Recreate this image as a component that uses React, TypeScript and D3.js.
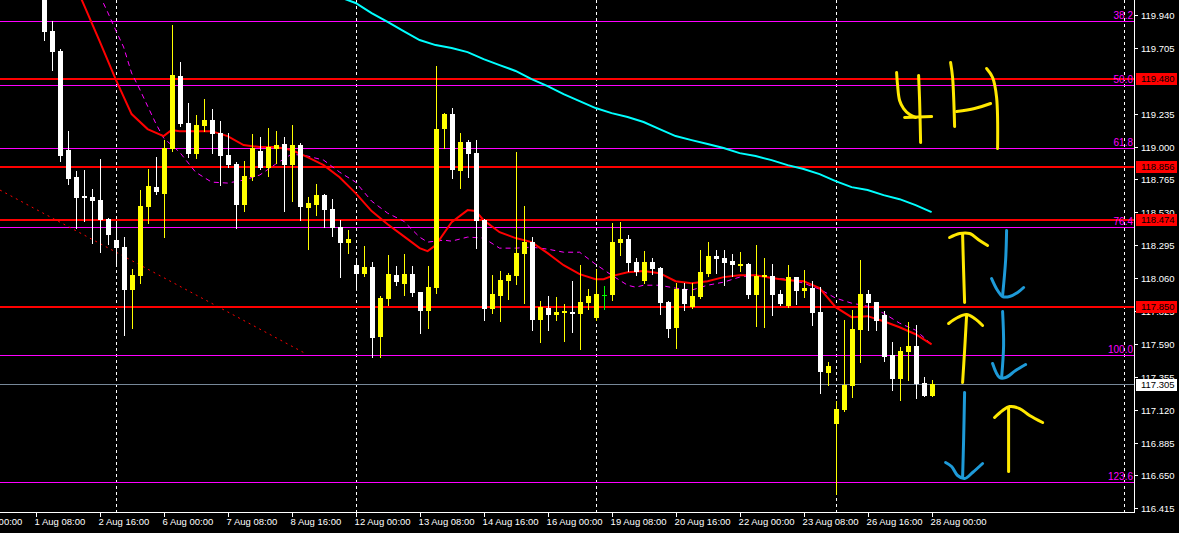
import React from 'react';
import * as d3 from 'd3';

const W = 1179;
const H = 533;
const PLOT_RIGHT = 1134;
const PLOT_BOTTOM = 512;

// H4 bars, bar 0 = 1 Aug 08:00, first drawn bar is 1
const firstBar = 1;
const opens = [
  120.154, 119.825, 119.682, 118.975, 118.781, 118.646, 118.638, 118.617, 118.481, 118.331,
  118.281, 117.972, 118.074, 118.567, 118.710, 118.660, 118.982, 119.504, 119.168, 118.946,
  119.146, 119.189, 119.096, 118.939, 118.874, 118.581, 118.781, 118.968, 118.846, 118.982,
  119.018, 118.867, 119.011, 118.560, 118.581, 118.653, 118.553, 118.424, 118.310, 118.152,
  118.088, 118.138, 117.638, 117.909, 118.081, 118.016, 118.088, 117.959, 117.823, 117.988,
  119.125, 119.232, 118.824, 119.032, 118.953, 118.474, 117.838, 117.931, 118.038, 118.074,
  118.231, 118.317, 117.759, 117.845, 117.795, 117.809, 117.816, 117.802, 117.881, 117.773,
  117.938, 117.938, 118.310, 118.338, 118.174, 118.038, 118.174, 118.131, 117.888, 117.702,
  117.981, 117.852, 117.923, 118.088, 118.217, 118.202, 118.181, 118.145, 118.160, 117.938,
  118.067, 118.074, 117.945, 117.859, 118.067, 117.966, 117.988, 117.816, 117.380, 117.015,
  117.116, 117.287, 117.688, 117.945, 117.888, 117.795, 117.509, 117.337, 117.530, 117.573,
  117.309, 117.216,
];
const highs = [
  120.226, 119.897, 119.697, 119.110, 118.824, 118.832, 118.696, 118.910, 118.488, 118.467,
  118.352, 118.124, 118.689, 118.839, 118.924, 119.046, 119.868, 119.604, 119.311, 119.225,
  119.339, 119.268, 119.182, 119.096, 118.889, 118.896, 119.089, 119.068, 119.132, 119.110,
  119.068, 119.153, 119.025, 118.638, 118.731, 118.660, 118.624, 118.474, 118.403, 118.202,
  118.288, 118.174, 117.931, 118.224, 118.145, 118.231, 118.145, 117.962, 118.145, 119.575,
  119.239, 119.275, 119.096, 119.046, 119.046, 118.481, 118.081, 118.110, 118.095, 118.960,
  118.574, 118.352, 117.895, 117.931, 117.923, 117.873, 118.038, 118.152, 117.981, 118.124,
  118.002, 118.453, 118.460, 118.367, 118.202, 118.252, 118.202, 118.138, 117.895, 118.024,
  118.024, 118.024, 118.260, 118.317, 118.260, 118.260, 118.231, 118.245, 118.167, 118.295,
  118.202, 118.160, 117.974, 118.152, 118.070, 118.117, 118.038, 117.995, 117.459, 117.180,
  117.759, 117.831, 118.188, 117.974, 117.892, 117.823, 117.602, 117.566, 117.745, 117.723,
  117.352, 117.330,
];
const lows = [
  119.761, 119.547, 118.896, 118.731, 118.417, 118.467, 118.310, 118.245, 118.302, 118.145,
  117.652, 117.702, 118.024, 118.453, 118.660, 118.352, 118.968, 119.146, 118.924, 118.917,
  119.110, 118.953, 118.724, 118.853, 118.417, 118.538, 118.760, 118.839, 118.789, 118.882,
  118.538, 118.610, 118.474, 118.267, 118.510, 118.424, 118.360, 118.067, 118.238, 117.974,
  118.074, 117.494, 117.494, 117.866, 118.009, 117.938, 117.931, 117.666, 117.702, 117.952,
  118.989, 118.774, 118.703, 118.781, 118.274, 117.759, 117.809, 117.752, 117.909, 118.016,
  117.881, 117.688, 117.602, 117.688, 117.759, 117.609, 117.673, 117.552, 117.838, 117.759,
  117.838, 117.902, 118.224, 118.110, 118.081, 118.024, 118.088, 117.802, 117.638, 117.559,
  117.831, 117.845, 117.916, 118.074, 118.095, 118.009, 118.074, 118.110, 117.916, 117.716,
  117.709, 117.795, 117.866, 117.852, 117.873, 117.923, 117.723, 117.237, 117.294, 116.515,
  117.110, 117.208, 117.459, 117.688, 117.688, 117.466, 117.259, 117.187, 117.330, 117.201,
  117.216, 117.214,
];
const closes = [
  119.818, 119.675, 118.932, 118.767, 118.631, 118.631, 118.610, 118.474, 118.367, 118.274,
  117.972, 118.081, 118.574, 118.717, 118.674, 118.989, 119.511, 119.161, 118.946, 119.153,
  119.189, 119.089, 118.932, 118.867, 118.581, 118.789, 118.989, 118.846, 118.996, 119.011,
  118.867, 119.011, 118.567, 118.596, 118.653, 118.546, 118.417, 118.310, 118.338, 118.088,
  118.138, 117.630, 117.916, 118.088, 118.031, 118.088, 117.952, 117.823, 117.995, 119.125,
  119.232, 118.832, 119.032, 118.946, 118.467, 117.838, 117.945, 118.045, 118.081, 118.238,
  118.317, 117.759, 117.852, 117.795, 117.816, 117.823, 117.802, 117.888, 117.931, 117.945,
  117.938, 118.317, 118.338, 118.167, 118.102, 118.174, 118.124, 117.881, 117.695, 117.981,
  117.873, 117.931, 118.102, 118.217, 118.195, 118.167, 118.152, 118.160, 117.938, 118.074,
  118.081, 117.938, 117.873, 118.067, 117.966, 117.988, 117.809, 117.387, 117.430, 117.123,
  117.294, 117.695, 117.945, 117.881, 117.752, 117.494, 117.337, 117.537, 117.573, 117.301,
  117.216, 117.305,
];

// moving averages: [bar, price]
const fastMa: [number, number][] = [
  [5, 120.147], [6, 120.018], [8, 119.754], [10, 119.482], [12, 119.232], [14, 119.125],
  [16, 119.075], [17, 119.118], [18, 119.110], [20, 119.110], [22, 119.110], [24, 119.075],
  [26, 119.011], [28, 118.996], [30, 118.996], [32, 118.975], [34, 118.925], [36, 118.867],
  [38, 118.781], [40, 118.667], [42, 118.539], [44, 118.445], [46, 118.360], [48, 118.274],
  [49, 118.253], [50, 118.295], [52, 118.460], [54, 118.546], [55, 118.539], [56, 118.474],
  [58, 118.388], [60, 118.346], [62, 118.317], [64, 118.238], [66, 118.152], [68, 118.088],
  [70, 118.052], [71, 118.052], [72, 118.074], [74, 118.102], [76, 118.110], [78, 118.095],
  [80, 118.038], [82, 118.024], [84, 118.038], [86, 118.067], [88, 118.081], [90, 118.081],
  [92, 118.060], [94, 118.045], [96, 118.038], [98, 117.988], [100, 117.852], [102, 117.781],
  [104, 117.788], [106, 117.752], [108, 117.709], [110, 117.659], [112, 117.587],
];
const dashMa: [number, number][] = [
  [8, 120.083], [9, 119.961], [10, 119.833], [11, 119.711], [12, 119.525], [13, 119.411],
  [14, 119.289], [15, 119.168], [16, 119.061], [18, 118.960], [20, 118.817], [22, 118.746],
  [24, 118.739], [26, 118.760], [28, 118.796], [30, 118.874], [32, 118.946], [34, 118.932],
  [36, 118.903], [38, 118.817], [40, 118.746], [42, 118.610], [44, 118.524], [46, 118.467],
  [48, 118.353], [49, 118.317], [51, 118.331], [52, 118.324], [54, 118.353], [56, 118.346],
  [58, 118.274], [60, 118.274], [62, 118.281], [64, 118.267], [66, 118.245], [68, 118.245],
  [70, 118.159], [72, 118.081], [74, 118.009], [75, 117.995], [76, 118.009], [78, 118.009],
  [80, 117.988], [82, 117.974], [84, 118.009], [86, 118.031], [88, 118.067], [90, 118.081],
  [92, 118.060], [94, 118.052], [96, 118.024], [98, 117.981], [100, 117.917], [102, 117.881],
  [104, 117.859], [106, 117.809], [108, 117.738], [110, 117.688], [112, 117.587],
];
const slowMa: [number, number][] = [
  [38, 120.068], [40, 120.026], [42, 119.954], [44, 119.890], [46, 119.825], [48, 119.761],
  [50, 119.725], [52, 119.704], [54, 119.675], [56, 119.625], [58, 119.582], [60, 119.540],
  [62, 119.482], [64, 119.432], [66, 119.375], [68, 119.325], [70, 119.275], [72, 119.239],
  [74, 119.211], [76, 119.175], [78, 119.125], [80, 119.075], [82, 119.046], [84, 119.018],
  [86, 118.989], [88, 118.953], [90, 118.932], [92, 118.903], [94, 118.867], [96, 118.839],
  [98, 118.803], [100, 118.753], [102, 118.710], [104, 118.689], [106, 118.653], [108, 118.624],
  [110, 118.581], [112, 118.531],
];

const trendLine: [number, number][] = [[-4.45, 118.689], [33.9, 117.516]];

const fibHigh = 121.37;
const fibLow = 117.514;
const fibRatios = [38.2, 50.0, 61.8, 76.4, 100.0, 123.6];
const levels = [119.48, 118.856, 118.474, 117.85];
const lastPrice = 117.305;

// 119.470 sits fully under the 119.480 level tag, so it is left out
const priceTicks = [
  116.415, 116.65, 116.885, 117.12, 117.355, 117.59, 117.825, 118.06,
  118.295, 118.53, 118.765, 119.0, 119.235, 119.705, 119.94,
];
const timeLabels = [
  '31 Jul 00:00', '1 Aug 08:00', '2 Aug 16:00', '6 Aug 00:00', '7 Aug 08:00', '8 Aug 16:00',
  '12 Aug 00:00', '13 Aug 08:00', '14 Aug 16:00', '16 Aug 00:00', '19 Aug 08:00',
  '20 Aug 16:00', '22 Aug 00:00', '23 Aug 08:00', '26 Aug 16:00', '28 Aug 00:00',
];
const timeLabelFirstBar = -8;
const barsPerLabel = 8;
const separators = [10, 40, 70, 100, 136];

// hand-drawn notes, pixel offsets from an anchor placed in chart units
const noteAnchor: [number, number] = [110, 118.5];
const noteYellow = '#ffe800';
const noteBlue = '#1e9ad8';
const notes: { color: string; pts: [number, number][] }[] = [
  { color: noteYellow, pts: [[-19, -144], [-18, -131], [-16, -116], [-12, -108], [-6, -102], [0, -99]] },
  { color: noteYellow, pts: [[-11, -99], [16, -100]] },
  { color: noteYellow, pts: [[3, -141], [4, -116], [5, -74]] },
  { color: noteYellow, pts: [[35, -154], [37, -139], [39, -90]] },
  { color: noteYellow, pts: [[41, -105], [59, -108], [75, -113]] },
  { color: noteYellow, pts: [[71, -148], [77, -139], [81, -119], [82, -68]] },
  { color: noteYellow, pts: [[34, 21], [44, 17], [54, 17], [64, 24], [72, 29]] },
  { color: noteYellow, pts: [[47, 18], [48, 54], [49, 86]] },
  { color: noteBlue, pts: [[91, 14], [90, 44], [87, 79]] },
  { color: noteBlue, pts: [[76, 62], [82, 74], [87, 80], [94, 80], [102, 76], [108, 71]] },
  { color: noteYellow, pts: [[33, 107], [42, 101], [51, 98], [59, 102], [67, 109]] },
  { color: noteYellow, pts: [[51, 99], [49, 134], [47, 166]] },
  { color: noteBlue, pts: [[87, 95], [88, 129], [86, 161]] },
  { color: noteBlue, pts: [[77, 147], [84, 161], [90, 161], [100, 154], [110, 148]] },
  { color: noteBlue, pts: [[49, 176], [48, 224], [47, 261]] },
  { color: noteBlue, pts: [[30, 246], [36, 250], [42, 259], [49, 262], [57, 256], [67, 247]] },
  { color: noteYellow, pts: [[79, 201], [87, 194], [94, 190], [104, 192], [114, 199], [127, 206]] },
  { color: noteYellow, pts: [[93, 191], [93, 224], [93, 255]] },
];

const FONT = '"Liberation Sans", Arial, sans-serif';

export default function App() {
  const x = d3.scaleLinear().domain([0, 112]).range([35.6, 931.6]);
  const y = d3.scaleLinear().domain([116.415, 119.94]).range([508.3, 15]);

  const maLine = d3
    .line<[number, number]>()
    .x(d => x(d[0]))
    .y(d => y(d[1]));

  const noteLine = d3
    .line<[number, number]>()
    .x(d => d[0])
    .y(d => d[1])
    .curve(d3.curveCatmullRom);

  const ax = x(noteAnchor[0]);
  const ay = y(noteAnchor[1]);

  const candles = opens.map((o, k) => {
    const c = closes[k];
    const cx = Math.round(x(firstBar + k));
    const top = Math.round(y(Math.max(o, c)));
    const bot = Math.round(y(Math.min(o, c)));
    const color = c > o ? '#ffff00' : c < o ? '#ffffff' : '#00ff00';
    return (
      <g key={k}>
        <line
          x1={cx + 0.5}
          x2={cx + 0.5}
          y1={Math.round(y(highs[k]))}
          y2={Math.round(y(lows[k])) + 1}
          stroke={color}
          strokeWidth={1}
        />
        <rect x={cx - 2} y={top} width={5} height={Math.max(1, bot - top)} fill={color} />
      </g>
    );
  });

  const fibLevels = fibRatios.map(r => ({ r, p: fibHigh - (r / 100) * (fibHigh - fibLow) }));

  return (
    <svg
      width={W}
      height={H}
      style={{ position: 'fixed', left: 0, top: 0, background: '#000', display: 'block' }}
      fontFamily={FONT}
    >
      <defs>
        <clipPath id="plot">
          <rect x={0} y={0} width={PLOT_RIGHT} height={PLOT_BOTTOM} />
        </clipPath>
      </defs>
      <rect width={W} height={H} fill="#000" />

      <g clipPath="url(#plot)">
        {separators.map(s => (
          <line
            key={s}
            x1={Math.round(x(s)) + 0.5}
            x2={Math.round(x(s)) + 0.5}
            y1={0}
            y2={PLOT_BOTTOM}
            stroke="#fff"
            strokeDasharray="3,3"
            shapeRendering="crispEdges"
          />
        ))}
        {fibLevels.map(f => (
          <line
            key={f.r}
            x1={0}
            x2={PLOT_RIGHT}
            y1={Math.round(y(f.p)) + 0.5}
            y2={Math.round(y(f.p)) + 0.5}
            stroke="#ff00ff"
            shapeRendering="crispEdges"
          />
        ))}
        {levels.map(l => (
          <line
            key={l}
            x1={0}
            x2={PLOT_RIGHT}
            y1={Math.round(y(l))}
            y2={Math.round(y(l))}
            stroke="#ff0000"
            strokeWidth={2}
            shapeRendering="crispEdges"
          />
        ))}
        <line
          x1={0}
          x2={PLOT_RIGHT}
          y1={Math.round(y(lastPrice)) + 0.5}
          y2={Math.round(y(lastPrice)) + 0.5}
          stroke="#778899"
          shapeRendering="crispEdges"
        />
        <path
          d={maLine(trendLine) ?? ''}
          fill="none"
          stroke="#ff0000"
          strokeWidth={1}
          strokeDasharray="2,4"
        />
        <path d={maLine(slowMa) ?? ''} fill="none" stroke="#00ffff" strokeWidth={2} />
        <path
          d={maLine(dashMa) ?? ''}
          fill="none"
          stroke="#ff00ff"
          strokeWidth={1}
          strokeDasharray="5,4"
        />
        <path d={maLine(fastMa) ?? ''} fill="none" stroke="#ff0000" strokeWidth={2} />
        <g shapeRendering="crispEdges">{candles}</g>
        {fibLevels.map(f => (
          <text
            key={'t' + f.r}
            x={PLOT_RIGHT - 1}
            y={Math.round(y(f.p)) - 2}
            textAnchor="end"
            fill="#ff00ff"
            fontSize={10}
          >
            {f.r.toFixed(1)}
          </text>
        ))}
      </g>

      {notes.map((n, k) => (
        <path
          key={'n' + k}
          d={noteLine(n.pts.map(([dx, dy]) => [ax + dx, ay + dy] as [number, number])) ?? ''}
          fill="none"
          stroke={n.color}
          strokeWidth={3}
          strokeLinecap="round"
          strokeLinejoin="round"
        />
      ))}

      {/* axes */}
      <g shapeRendering="crispEdges" stroke="#fff">
        <line x1={0} x2={PLOT_RIGHT + 1} y1={PLOT_BOTTOM + 0.5} y2={PLOT_BOTTOM + 0.5} />
        <line x1={PLOT_RIGHT + 0.5} x2={PLOT_RIGHT + 0.5} y1={0} y2={PLOT_BOTTOM + 1} />
        {priceTicks.map(t => (
          <line
            key={t}
            x1={PLOT_RIGHT}
            x2={PLOT_RIGHT + 4}
            y1={Math.round(y(t)) + 0.5}
            y2={Math.round(y(t)) + 0.5}
          />
        ))}
        {timeLabels.map((_, k) => {
          const tx = Math.round(x(timeLabelFirstBar + k * barsPerLabel)) + 0.5;
          return <line key={k} x1={tx} x2={tx} y1={PLOT_BOTTOM} y2={PLOT_BOTTOM + 5} />;
        })}
      </g>
      {priceTicks.map(t => (
        <text
          key={'pt' + t}
          x={PLOT_RIGHT + 7}
          y={Math.round(y(t)) + 0.5}
          dy="0.35em"
          fill="#fff"
          fontSize={9.5}
        >
          {t.toFixed(3)}
        </text>
      ))}
      {timeLabels.map((lab, k) => (
        <text
          key={'tl' + k}
          x={x(timeLabelFirstBar + k * barsPerLabel) - 1}
          y={525}
          fill="#fff"
          fontSize={9.5}
        >
          {lab}
        </text>
      ))}

      {levels.map(l => (
        <g key={'lb' + l}>
          <rect x={PLOT_RIGHT + 2} y={Math.round(y(l)) - 6} width={41} height={12} fill="#ff0000" />
          <text x={PLOT_RIGHT + 7} y={Math.round(y(l))} dy="0.35em" fill="#000" fontSize={9.5}>
            {l.toFixed(3)}
          </text>
        </g>
      ))}
      <rect x={PLOT_RIGHT + 2} y={Math.round(y(lastPrice)) - 5} width={41} height={12} fill="#fff" />
      <text x={PLOT_RIGHT + 7} y={Math.round(y(lastPrice)) + 1} dy="0.35em" fill="#000" fontSize={9.5}>
        {lastPrice.toFixed(3)}
      </text>
    </svg>
  );
}
